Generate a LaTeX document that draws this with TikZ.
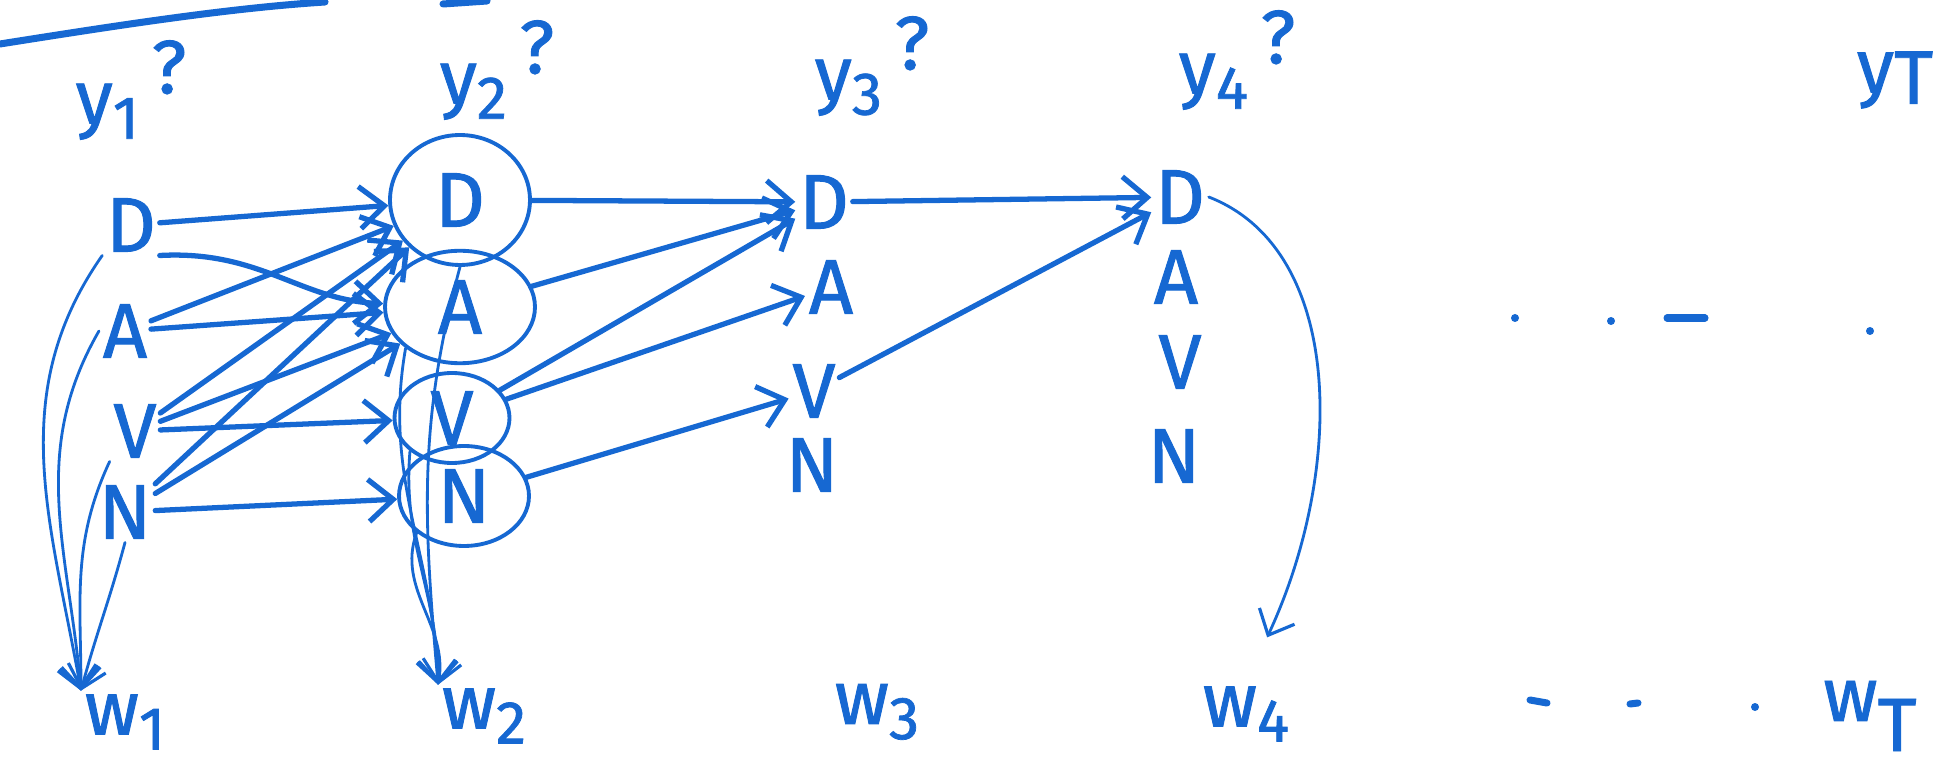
\documentclass[tikz,border=0pt]{standalone}
\usepackage{fontspec}
\setmainfont{Fira Sans}[FakeBold=1.2,AutoFakeBold=1.2]
\usetikzlibrary{arrows.meta,shapes.geometric}
\definecolor{ink}{RGB}{22,104,210}
\newcommand\lsub[1]{\raisebox{-0.2em}{\scalebox{0.8}{#1}}}
\newcommand\qm{\raisebox{0.4em}{?}}
\begin{document}
\begin{tikzpicture}[x=0.02cm,y=-0.02cm,
  every node/.style={text=ink, inner sep=2pt},
  st/.style={font=\fontsize{44}{48}\selectfont\bfseries},
  lab/.style={font=\fontsize{43}{47}\selectfont\bfseries},
  circ/.style={st, ellipse, draw=ink, line width=2.2pt, inner sep=0pt},
  arr/.style={draw=ink, line width=3pt, line cap=round, -{Straight Barb[length=14pt,width=24pt,line width=3pt]}},
  thinarr/.style={draw=ink, line width=1.6pt, line cap=round, -{Straight Barb[length=12pt,width=22pt,line width=1.8pt]}},
  stroke/.style={draw=ink, line width=4pt, line cap=round}
]
\useasboundingbox (0,0) rectangle (1958,776);
\fill[white] (0,0) rectangle (1958,776);

% top stroke
\draw[stroke] (0,44) .. controls (120,25) and (230,8) .. (325,2);
\draw[stroke] (443,4) -- (487,1);

% column labels
\node[lab] (y1) at (131,90) {y\lsub{1}\,\qm};
\node[lab] (y2) at (497,70) {y\lsub{2}\,\qm};
\node[lab] (y3) at (872,66) {y\lsub{3}\,\qm};
\node[lab] (y4) at (1237,60) {y\lsub{4}\,\qm};
\node[lab] (yT) at (1895,80) {y\raisebox{-0.15em}{T}};

% states column 1
\node[st] (D1) at (131,225) {D};
\node[st] (A1) at (125,331) {A};
\node[st] (V1) at (135,431) {V};
\node[st] (N1) at (125,512) {N};
% states column 2 (circled)
\node[circ, minimum width=2.8cm, minimum height=2.6cm] (D2) at (460,200) {D};
\node[circ, minimum width=3.0cm, minimum height=2.25cm] (A2) at (460,307) {A};
\node[circ, minimum width=2.3cm, minimum height=1.8cm] (V2) at (452,418) {V};
\node[circ, minimum width=2.6cm, minimum height=2.0cm] (N2) at (464,496) {N};
% states column 3
\node[st] (D3) at (824,202) {D};
\node[st] (A3) at (831,287) {A};
\node[st] (V3) at (814,391) {V};
\node[st] (N3) at (812,465) {N};
% states column 4
\node[st] (D4) at (1180,197) {D};
\node[st] (A4) at (1176,277) {A};
\node[st] (V4) at (1180,362) {V};
\node[st] (N4) at (1174,456) {N};

% words
\node[lab] (w1) at (125,722) {w\lsub{1}};
\node[lab] (w2) at (484,716) {w\lsub{2}};
\node[lab] (w3) at (877,712) {w\lsub{3}};
\node[lab] (w4) at (1246,714) {w\lsub{4}};
\node[lab] (wT) at (1870,716) {w\raisebox{-0.4em}{T}};

% column 1 -> column 2
\draw[arr] (D1) -- (D2);
\draw[arr] (D1.south east) .. controls (260,250) and (300,300) .. (A2);
\draw[arr] (A1) -- (D2);
\draw[arr] (A1) -- (A2);
\draw[arr] (V1) -- (D2);
\draw[arr] (V1) -- (A2);
\draw[arr] (V1) -- (V2);
\draw[arr] (N1) -- (A2);
\draw[arr] (N1) -- (D2);
\draw[arr] (N1) -- (N2);

% column 1 -> w1
\draw[thinarr] (D1.south west) to[out=235,in=100] (w1.north west);
\draw[thinarr] (A1.west) to[out=240,in=95] (w1.north west);
\draw[thinarr] (V1.south west) to[out=245,in=90] (w1.north west);
\draw[thinarr] (N1.south) to[out=255,in=75] (w1.north west);

% column 2 -> w2
\draw[thinarr] (D2.south) to[out=255,in=95] (w2.north west);
\draw[thinarr] (A2.south west) to[out=260,in=92] (w2.north west);
\draw[thinarr] (V2.south west) to[out=265,in=90] (w2.north west);
\draw[thinarr] (N2.south west) to[out=250,in=80] (w2.north west);

% column 2 -> column 3
\draw[arr] (D2) -- (D3);
\draw[arr] (A2) -- (D3);
\draw[arr] (V2) -- (D3);
\draw[arr] (V2) -- (A3);
\draw[arr] (N2) -- (V3);

% column 3 -> column 4
\draw[arr] (D3) -- (D4);
\draw[arr] (V3) -- (D4);

% D4 -> w4
\draw[thinarr, shorten >=1.0cm] (D4.east) .. controls (1345,250) and (1345,470) .. (w4.north);

% ellipsis dots
\fill[ink] (1515,318) circle (4);
\fill[ink] (1611,321) circle (4);
\draw[stroke] (1667,318) -- (1705,318);
\fill[ink] (1870,331) circle (4);
\draw[stroke] (1530,700) -- (1547,703);
\draw[stroke] (1630,704) -- (1638,703);
\fill[ink] (1755,707) circle (4);
\end{tikzpicture}
\end{document}
